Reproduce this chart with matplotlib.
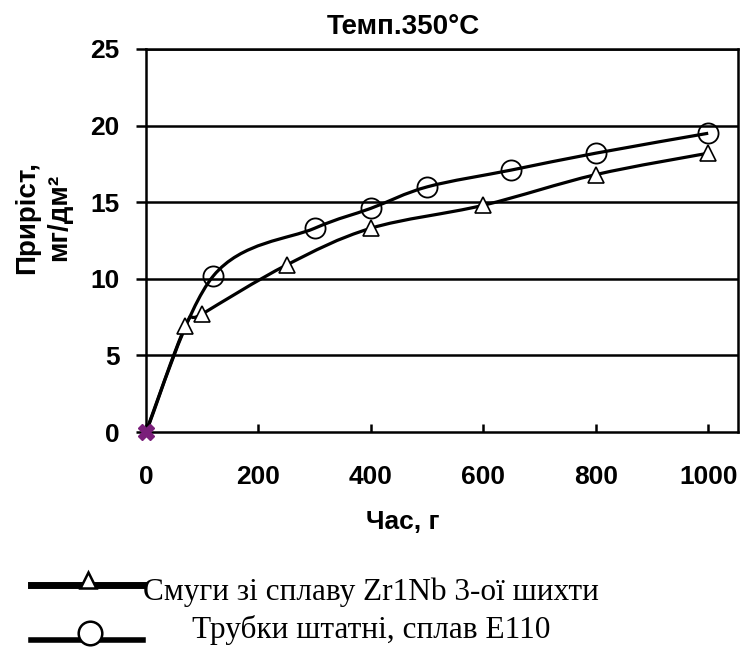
import numpy as np
import matplotlib
matplotlib.use('Agg')
import matplotlib.pyplot as plt
from matplotlib.path import Path
from matplotlib.patches import PathPatch
from matplotlib.lines import Line2D

# data
hours_strip = [0, 70, 100, 250, 400, 600, 800, 1000]
gain_strip = [0, 6.9, 7.7, 10.9, 13.3, 14.8, 16.8, 18.2]
hours_tube = [0, 120, 300, 400, 500, 650, 800, 1000]
gain_tube = [0, 10.2, 13.3, 14.6, 16.0, 17.1, 18.2, 19.5]

label_strip = 'Смуги зі сплаву Zr1Nb 3-ої шихти'
label_tube = 'Трубки штатні, сплав E110'

plt.rcParams['font.family'] = ['Liberation Sans', 'DejaVu Sans']


def smooth_path(x, y):
    # excel-like smoothed line: catmull-rom as cubic bezier
    p = np.column_stack([x, y]).astype(float)
    n = len(p)
    verts = [p[0]]
    codes = [Path.MOVETO]
    for i in range(n - 1):
        p0 = p[i - 1] if i > 0 else p[i]
        p3 = p[i + 2] if i + 2 < n else p[i + 1]
        c1 = p[i] + (p[i + 1] - p0) / 6.0
        c2 = p[i + 1] - (p3 - p[i]) / 6.0
        verts += [c1, c2, p[i + 1]]
        codes += [Path.CURVE4] * 3
    return Path(verts, codes)


W, H = 744.0, 649.0
fig = plt.figure(figsize=(W / 100, H / 100), dpi=100)
ax = fig.add_axes([146 / W, 1 - 432 / H, 592 / W, 383 / H])

ax.set_xlim(0, 1053)
ax.set_ylim(0, 25)

for yy in [5, 10, 15, 20, 25]:
    ax.axhline(yy, color='black', lw=1.8, zorder=1)

for xs, ys in [(hours_strip, gain_strip), (hours_tube, gain_tube)]:
    ax.add_patch(PathPatch(smooth_path(xs, ys), fc='none', ec='black', lw=2.3, zorder=3))

ax.plot(hours_strip[1:], gain_strip[1:], ls='none', marker='^', ms=11,
        mfc='white', mec='black', mew=1.2, zorder=4)
ax.plot(hours_tube[1:], gain_tube[1:], ls='none', marker='o', ms=14.5,
        mfc='none', mec='black', mew=1.3, zorder=4)
ax.plot([0], [0], ls='none', marker='X', ms=11, color='#7a1f7a', zorder=5,
        clip_on=False)

for s in ax.spines.values():
    s.set_linewidth(1.8)
ax.set_xticks([0, 200, 400, 600, 800, 1000])
ax.set_yticks([0, 5, 10, 15, 20, 25])
ax.tick_params(axis='x', direction='in', length=6, width=1.8, pad=24, labelsize=19)
ax.tick_params(axis='y', direction='out', length=7, width=1.8, pad=12, labelsize=19)
for t in ax.get_xticklabels() + ax.get_yticklabels():
    t.set_fontweight('bold')

fig.text(403 / W, 1 - 27 / H, 'Темп.350°C', fontsize=20, fontweight='bold',
         ha='center', va='center')
ax.set_xlabel('Час, г', fontsize=19, fontweight='bold')
ax.xaxis.set_label_coords((403 - 146) / 592, (432 - 522) / 383)
ax.xaxis.label.set_va('center')
ax.set_ylabel('Приріст,\nмг/дм²', fontsize=20, fontweight='bold', linespacing=1.3)
ax.yaxis.set_label_coords((43 - 146) / 592, (432 - 217) / 383)
ax.yaxis.label.set_va('center')

# legend drawn under the chart
fig.add_artist(Line2D([31 / W, 143 / W], [1 - 585 / H] * 2, color='black', lw=5))
fig.add_artist(Line2D([88 / W], [1 - 580 / H], ls='none', marker='^', ms=12,
                      mfc='white', mec='black', mew=1.8))
fig.add_artist(Line2D([31 / W, 143 / W], [1 - 640 / H] * 2, color='black', lw=4))
fig.add_artist(Line2D([90 / W], [1 - 633 / H], ls='none', marker='o', ms=17,
                      mfc='white', mec='black', mew=1.8))
fig.text(143 / W, 1 - 600 / H, label_strip, family='Liberation Serif', fontsize=22.5,
         va='baseline', ha='left')
fig.text(192 / W, 1 - 638 / H, label_tube, family='Liberation Serif', fontsize=22.5,
         va='baseline', ha='left')

fig.savefig('out.png', dpi=100)
